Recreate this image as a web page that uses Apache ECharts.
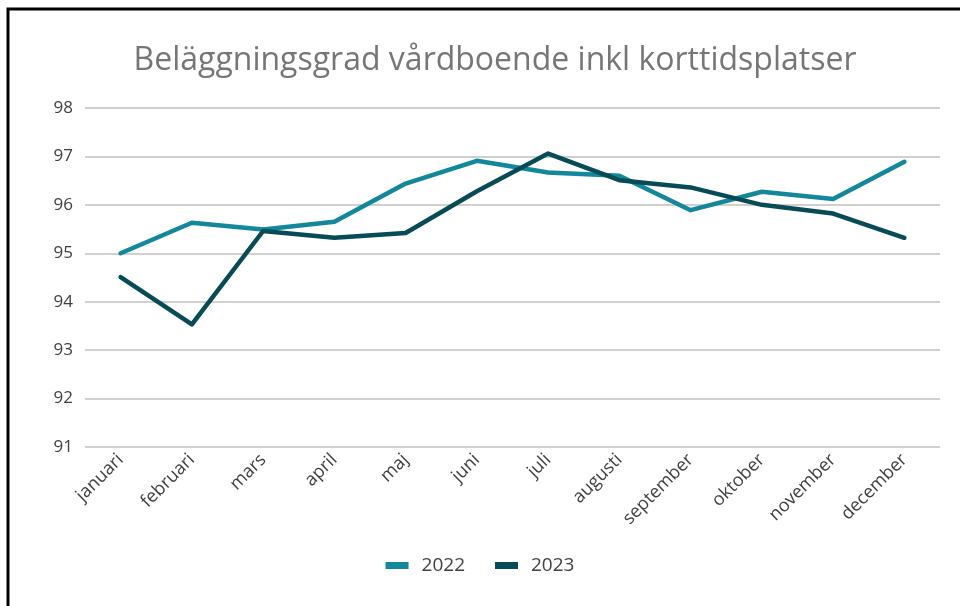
<!DOCTYPE html>
<html>
<head>
<meta charset="utf-8">
<script src="https://cdn.jsdelivr.net/npm/echarts@6/dist/echarts.min.js"></script>
<style>
html, body { margin: 0; padding: 0; background: #fff; }
#chart { width: 960px; height: 606px; }
</style>
</head>
<body>
<div id="chart"></div>
<script>
var months = ['januari', 'februari', 'mars', 'april', 'maj', 'juni', 'juli', 'augusti', 'september', 'oktober', 'november', 'december'];
var data2022 = [95.0, 95.63, 95.49, 95.65, 96.44, 96.91, 96.67, 96.6, 95.89, 96.27, 96.12, 96.89];
var data2023 = [94.51, 93.53, 95.46, 95.32, 95.42, 96.28, 97.06, 96.51, 96.36, 96.0, 95.82, 95.32];

var chart = echarts.init(document.getElementById('chart'));

var lineSeries = function (name, color, values) {
    return {
        name: name,
        type: 'line',
        symbol: 'none',
        smooth: false,
        lineStyle: { color: color, width: 4.5, cap: 'round', join: 'round' },
        itemStyle: { color: color },
        data: values
    };
};

var option = {
    animation: false,
    backgroundColor: '#fff',
    graphic: [
        {
            type: 'rect',
            shape: { x: 8, y: 9, width: 960, height: 620 },
            style: { fill: 'none', stroke: '#000', lineWidth: 3 },
            z: 100
        }
    ],
    title: {
        text: 'Beläggningsgrad vårdboende inkl korttidsplatser',
        left: 490,
        textAlign: 'center',
        top: 40,
        textStyle: {
            fontFamily: 'Open Sans',
            fontWeight: 'normal',
            fontSize: 32,
            color: '#767676'
        }
    },
    legend: {
        bottom: 26,
        left: 'center',
        itemWidth: 23,
        itemHeight: 7,
        itemGap: 30,
        icon: 'rect',
        textStyle: { fontFamily: 'Open Sans', fontSize: 19, color: '#404040', padding: [0, 0, 0, 8] },
        data: ['2022', '2023']
    },
    grid: {
        left: 85,
        right: 20,
        top: 108,
        bottom: 606 - 447
    },
    xAxis: {
        type: 'category',
        boundaryGap: true,
        data: months,
        axisLine: { show: false },
        axisTick: { show: false },
        axisLabel: {
            rotate: 45,
            margin: 10,
            fontFamily: 'Open Sans',
            fontSize: 18,
            color: '#404040',
            interval: 0
        }
    },
    yAxis: {
        type: 'value',
        min: 91,
        max: 98,
        interval: 1,
        axisLine: { show: false },
        axisTick: { show: false },
        axisLabel: {
            margin: 12,
            fontFamily: 'Open Sans',
            fontSize: 17,
            color: '#404040'
        },
        splitLine: { lineStyle: { color: '#d0d0d0', width: 2 } }
    },
    series: [
        lineSeries('2022', '#13879c', data2022),
        lineSeries('2023', '#064b55', data2023)
    ]
};

chart.setOption(option);
</script>
</body>
</html>
